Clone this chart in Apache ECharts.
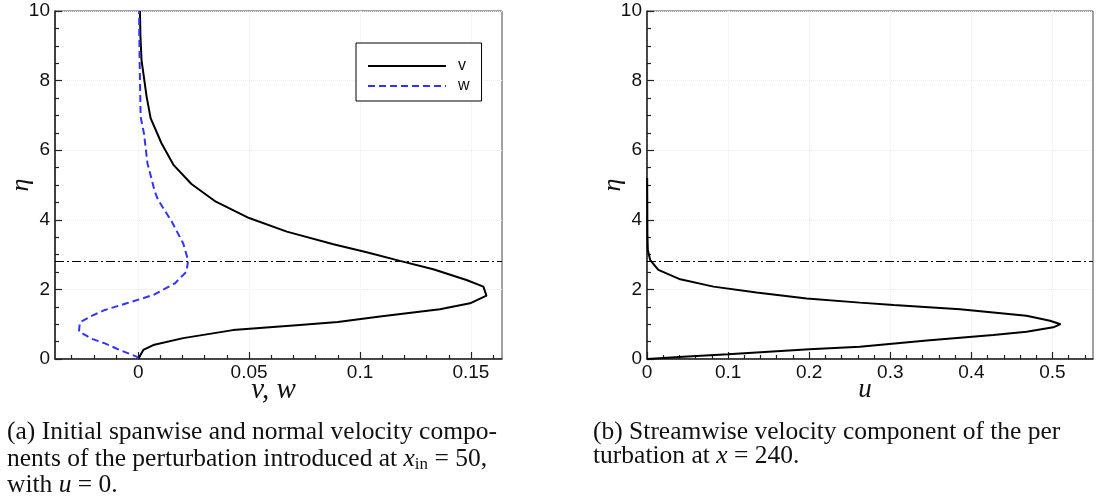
<!DOCTYPE html>
<html>
<head>
<meta charset="utf-8">
<script src="https://cdn.jsdelivr.net/npm/echarts@6/dist/echarts.min.js"></script>
<style>
html,body{margin:0;padding:0;background:#fff;}
#c{width:1099px;height:498px;}
</style>
</head>
<body>
<div id="c"></div>
<script>
// ---- data ----
// (a) normal velocity v(eta)
const etaV = [0, 0.26, 0.40, 0.60, 0.83, 0.98, 1.06, 1.22, 1.43, 1.60, 1.82, 2.08, 2.27, 2.58, 2.82, 3.07, 3.30, 3.66, 4.05, 4.52, 5.03, 5.57, 6.20, 6.92, 7.54, 8.59, 9.30, 10];
const vVal = [0, 0.0023, 0.0068, 0.0203, 0.0427, 0.0728, 0.090, 0.109, 0.136, 0.1496, 0.157, 0.1556, 0.148, 0.133, 0.118, 0.103, 0.088, 0.067, 0.050, 0.035, 0.024, 0.016, 0.0105, 0.0056, 0.0038, 0.0015, 0.0010, 0.0008];
// (a) spanwise velocity w(eta)
const etaW = [0, 0.07, 0.25, 0.45, 0.58, 0.79, 1.05, 1.24, 1.41, 1.60, 1.84, 2.17, 2.51, 2.84, 3.32, 3.95, 4.57, 4.81, 5.62, 6.48, 6.96, 8.40, 9.30, 10];
const wVal = [0, -0.0007, -0.008, -0.015, -0.021, -0.0267, -0.0263, -0.021, -0.015, -0.0052, 0.0068, 0.0165, 0.0218, 0.0225, 0.0203, 0.0151, 0.009, 0.0075, 0.0042, 0.0026, 0.0011, 0.0007, 0.0005, 0.0004];
// (b) streamwise velocity u(eta)
const etaU = [0, 0.07, 0.135, 0.28, 0.35, 0.53, 0.69, 0.78, 0.91, 1.00, 1.10, 1.24, 1.43, 1.55, 1.62, 1.74, 1.91, 2.08, 2.29, 2.56, 2.84, 3.13, 3.60, 5.20];
const uVal = [0, 0.05, 0.10, 0.20, 0.2625, 0.345, 0.427, 0.468, 0.501, 0.510, 0.497, 0.468, 0.386, 0.304, 0.2625, 0.197, 0.135, 0.082, 0.041, 0.014, 0.004, 0.001, 0.0005, 0.0002];
// boundary-layer edge (dash-dot line)
const etaEdge = 2.8;

// axis ranges and ticks
const vwRange = [-0.0375, 0.164];
const uRange = [0, 0.55];
const etaRange = [0, 10];
const vwMajor = [0, 0.05, 0.1, 0.15];
const vwMinor = [-0.03, -0.02, -0.01, 0.01, 0.02, 0.03, 0.04, 0.06, 0.07, 0.08, 0.09, 0.11, 0.12, 0.13, 0.14, 0.16];
const uMajor = [0, 0.1, 0.2, 0.3, 0.4, 0.5];
const uMinor = [0.02, 0.04, 0.06, 0.08, 0.12, 0.14, 0.16, 0.18, 0.22, 0.24, 0.26, 0.28, 0.32, 0.34, 0.36, 0.38, 0.42, 0.44, 0.46, 0.48, 0.52, 0.54];
const legendNames = ['v', 'w'];
const xNameA = 'v, w';
const xNameB = 'u';
const yName = 'η';

function pairs(xs, ys) { return xs.map((x, i) => [x, ys[i]]); }

const SANS = 'Liberation Sans, Arial, sans-serif';
const SERIF = 'Liberation Serif, Times New Roman, serif';
const AX = '#222';
const fmt = v => String(Math.round(v * 1000) / 1000);

function majorX(grid, range, ticks, name, nameSize) {
  return {
    gridIndex: grid, type: 'value', min: range[0], max: range[1], position: 'bottom',
    axisLine: { show: true, onZero: false, lineStyle: { color: AX, width: 1.5 } },
    axisTick: { show: true, inside: true, length: 7, customValues: ticks, lineStyle: { color: AX, width: 1.2 } },
    axisLabel: { show: true, customValues: ticks, formatter: fmt, fontSize: 19, color: '#111', fontFamily: SANS, margin: 4 },
    splitLine: { show: true, lineStyle: { color: '#ededed', type: 'dotted', width: 1 } },
    name: name, nameLocation: 'middle', nameGap: 17, nameMoveOverlap: false,
    nameTextStyle: { fontFamily: SERIF, fontStyle: 'italic', fontSize: nameSize, color: '#111', padding: [0, 10, 0, 0] }
  };
}
function minorX(grid, range, ticks) {
  return {
    gridIndex: grid, type: 'value', min: range[0], max: range[1], position: 'bottom',
    axisLine: { show: false, onZero: false },
    axisTick: { show: true, inside: true, length: 4, customValues: ticks, lineStyle: { color: AX, width: 1.2 } },
    axisLabel: { show: false }, splitLine: { show: false }
  };
}
function yAx(grid) {
  return {
    gridIndex: grid, type: 'value', min: etaRange[0], max: etaRange[1], interval: 2, position: 'left',
    axisLine: { show: true, onZero: false, lineStyle: { color: AX, width: 1.5 } },
    axisTick: { show: true, inside: true, length: 7, lineStyle: { color: AX, width: 1.2 } },
    minorTick: { show: true, splitNumber: 4, length: 4, lineStyle: { color: AX, width: 1.2 } },
    axisLabel: { fontSize: 19, color: '#111', fontFamily: SANS, margin: 5 },
    splitLine: { show: true, lineStyle: { color: '#ededed', type: 'dotted', width: 1 } },
    name: yName, nameLocation: 'middle', nameRotate: 90, nameGap: 21, nameMoveOverlap: false,
    nameTextStyle: { fontFamily: SERIF, fontStyle: 'italic', fontSize: 26, color: '#111' }
  };
}
const edgeLine = {
  silent: true, symbol: 'none', label: { show: false },
  lineStyle: { color: '#000', width: 1, type: [9, 3, 2, 3] },
  data: [{ yAxis: etaEdge }]
};

const rich = {
  n: { fontFamily: SERIF, fontSize: 25.5, lineHeight: 28, color: '#111' },
  i: { fontFamily: SERIF, fontSize: 25.5, lineHeight: 28, fontStyle: 'italic', color: '#111' },
  s: { fontFamily: SERIF, fontSize: 17, lineHeight: 17, color: '#111', verticalAlign: 'bottom' }
};
function cap(x, y, text) {
  return { type: 'text', left: x, top: y, silent: true, style: { text: text, rich: rich, font: '25.5px ' + SERIF, fill: '#111' } };
}

const chart = echarts.init(document.getElementById('c'), null, { renderer: 'canvas' });
chart.setOption({
  animation: false,
  backgroundColor: '#fff',
  grid: [
    { left: 55, top: 11, width: 447, height: 348, show: true, borderColor: '#444', borderWidth: 1, backgroundColor: 'transparent' },
    { left: 647, top: 11, width: 446, height: 348, show: true, borderColor: '#444', borderWidth: 1, backgroundColor: 'transparent' }
  ],
  xAxis: [
    majorX(0, vwRange, vwMajor, xNameA, 29), minorX(0, vwRange, vwMinor),
    majorX(1, uRange, uMajor, xNameB, 27), minorX(1, uRange, uMinor)
  ],
  yAxis: [yAx(0), yAx(1)],
  legend: {
    data: legendNames, orient: 'vertical', left: 356, top: 43,
    itemWidth: 78, itemHeight: 14, itemGap: 4,
    padding: [15, 12, 7, 11],
    borderColor: '#000', borderWidth: 1, backgroundColor: '#fff', borderRadius: 0,
    itemStyle: { opacity: 0 },
    textStyle: { fontSize: 16, color: '#111', fontFamily: SANS, padding: [0, 0, 0, 7] },
    selectedMode: false
  },
  series: [
    { name: 'v', type: 'line', xAxisIndex: 0, yAxisIndex: 0, data: pairs(vVal, etaV), symbol: 'none', smooth: false,
      lineStyle: { color: '#000', width: 2 }, itemStyle: { color: '#000' }, markLine: edgeLine, z: 3 },
    { name: 'w', type: 'line', xAxisIndex: 0, yAxisIndex: 0, data: pairs(wVal, etaW), symbol: 'none', smooth: false,
      lineStyle: { color: '#3333ff', width: 2, type: [7, 4] }, itemStyle: { color: '#3333ff' }, z: 3 },
    { name: 'u', type: 'line', xAxisIndex: 2, yAxisIndex: 1, data: pairs(uVal, etaU), symbol: 'none', smooth: false,
      lineStyle: { color: '#000', width: 2 }, itemStyle: { color: '#000' }, markLine: edgeLine, z: 3 }
  ],
  graphic: [
    cap(7, 419, '{n|(a) Initial spanwise and normal velocity compo-}'),
    cap(7, 446, '{n|nents of the perturbation introduced at }{i|x}{s|in}{n| = 50,}'),
    cap(7, 472, '{n|with }{i|u}{n| = 0.}'),
    cap(593, 419, '{n|(b) Streamwise velocity component of the per}'),
    cap(593, 443, '{n|turbation at }{i|x}{n| = 240.}')
  ]
});
</script>
</body>
</html>
